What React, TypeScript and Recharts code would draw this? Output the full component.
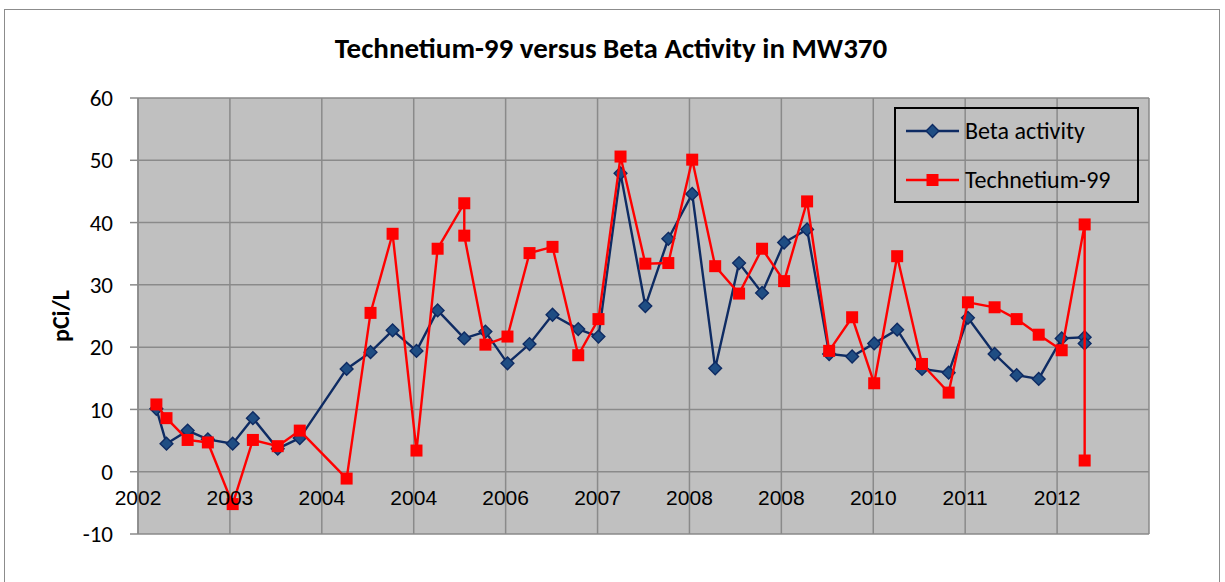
import { ScatterChart, Scatter, XAxis, YAxis, CartesianGrid, Legend } from 'recharts';

// x positions in axis units: gridline k sits at 2002 + k (labels below are what the axis prints)
const xTicks = [2002, 2003, 2004, 2005, 2006, 2007, 2008, 2009, 2010, 2011, 2012, 2013];
const xTickLabels = ['2002', '2003', '2004', '2004', '2006', '2007', '2008', '2008', '2010', '2011', '2012', ''];
const yTicks = [-10, 0, 10, 20, 30, 40, 50, 60];

const betaDates = [
    2002.2, 2002.31, 2002.54, 2002.76, 2003.03, 2003.25, 2003.52, 2003.76, 2004.27, 2004.53,
    2004.77, 2005.03, 2005.26, 2005.55, 2005.78, 2006.02, 2006.26, 2006.51, 2006.79, 2007.01,
    2007.25, 2007.52, 2007.77, 2008.03, 2008.28, 2008.54, 2008.79, 2009.03, 2009.28, 2009.52,
    2009.77, 2010.01, 2010.26, 2010.53, 2010.82, 2011.03, 2011.32, 2011.56, 2011.8, 2012.05,
    2012.3, 2012.3
];
const betaValues = [
    10.1, 4.5, 6.6, 5.2, 4.5, 8.6, 3.7, 5.4, 16.5, 19.2,
    22.7, 19.4, 25.9, 21.4, 22.5, 17.4, 20.5, 25.2, 22.9, 21.7,
    47.9, 26.6, 37.4, 44.6, 16.6, 33.5, 28.7, 36.8, 38.9, 18.9,
    18.5, 20.6, 22.8, 16.5, 15.9, 24.7, 18.9, 15.5, 14.9, 21.4,
    21.6, 20.6
];

const tcDates = [
    2002.2, 2002.31, 2002.54, 2002.76, 2003.03, 2003.25, 2003.52, 2003.76, 2004.27, 2004.53,
    2004.77, 2005.03, 2005.26, 2005.55, 2005.55, 2005.78, 2006.02, 2006.26, 2006.51, 2006.79,
    2007.01, 2007.25, 2007.52, 2007.77, 2008.03, 2008.28, 2008.54, 2008.79, 2009.03, 2009.28,
    2009.52, 2009.77, 2010.01, 2010.26, 2010.53, 2010.82, 2011.03, 2011.32, 2011.56, 2011.8,
    2012.05, 2012.3, 2012.3
];
const tcValues = [
    10.8, 8.6, 5.1, 4.7, -5.2, 5.1, 4.1, 6.6, -1.1, 25.5,
    38.2, 3.4, 35.8, 43.1, 37.9, 20.4, 21.7, 35.1, 36.1, 18.7,
    24.5, 50.6, 33.4, 33.5, 50.1, 33.0, 28.6, 35.8, 30.6, 43.4,
    19.4, 24.8, 14.2, 34.6, 17.3, 12.7, 27.2, 26.4, 24.5, 22.0,
    19.5, 39.7, 1.8
];

const betaData = betaDates.map((x, i) => ({ x, y: betaValues[i] }));
const tcData = tcDates.map((x, i) => ({ x, y: tcValues[i] }));

const BLUE_LINE = '#0e2b63';
const BLUE_FILL = '#1f4d83';
const RED = '#ff0000';
const GRID = '#8a8a8a';
const CALIBRI = 'Carlito, Calibri, Lato, sans-serif';

function Diamond({ cx, cy }: any) {
    const r = 6.4;
    return (
        <path
            d={`M${cx},${cy - r}L${cx + r},${cy}L${cx},${cy + r}L${cx - r},${cy}Z`}
            fill={BLUE_FILL}
            stroke={BLUE_LINE}
            strokeWidth={1.4}
        />
    );
}

function Square({ cx, cy }: any) {
    return <rect x={cx - 6} y={cy - 6} width={12} height={12} fill={RED} />;
}

function XTick({ x, payload }: any) {
    const label = xTickLabels[xTicks.indexOf(payload.value)];
    // Excel draws the labels against the zero line, not the bottom edge
    return (
        <text x={x} y={505} textAnchor="middle" fontFamily="'Liberation Sans', Arial, sans-serif" fontSize={21} fill="#000">
            {label}
        </text>
    );
}

function LegendBox() {
    return (
        <div style={{ width: 245, height: 96, border: '2px solid #000', boxSizing: 'border-box' }}>
            <svg width={241} height={92} style={{ display: 'block' }}>
                <line x1={10} x2={63} y1={22} y2={22} stroke={BLUE_LINE} strokeWidth={2.4} />
                <Diamond cx={36.5} cy={22} />
                <text x={69} y={30} fontFamily={CALIBRI} fontSize={24} fill="#000">Beta activity</text>
                <line x1={10} x2={63} y1={71} y2={71} stroke={RED} strokeWidth={2.4} />
                <Square cx={36.5} cy={71} />
                <text x={69} y={79} fontFamily={CALIBRI} fontSize={24} fill="#000">Technetium-99</text>
            </svg>
        </div>
    );
}

export default function App() {
    return (
        <div style={{ position: 'absolute', left: 0, top: 0, width: 1225, height: 582, background: '#fff', overflow: 'hidden' }}>
            <div style={{ position: 'absolute', left: 4, top: 9, width: 1216, height: 580, border: '1.5px solid #8c8c8c', boxSizing: 'border-box' }} />
            <div
                style={{
                    position: 'absolute', left: 0, top: 34, width: 1222, textAlign: 'center',
                    fontFamily: CALIBRI, fontWeight: 700, fontSize: 29, lineHeight: '29px', color: '#000'
                }}
            >
                Technetium-99 versus Beta Activity in MW370
            </div>
            <div style={{ position: 'absolute', left: 0, top: 0 }}>
                <ScatterChart width={1225} height={582} margin={{ top: 98, right: 76, bottom: 18, left: 78 }}>
                    <CartesianGrid stroke={GRID} strokeWidth={1.5} fill="#c0c0c0" fillOpacity={1} />
                    <XAxis
                        type="number"
                        dataKey="x"
                        domain={[2002, 2013]}
                        ticks={xTicks}
                        interval={0}
                        height={30}
                        axisLine={false}
                        tickLine={false}
                        tick={<XTick />}
                    />
                    <YAxis
                        type="number"
                        dataKey="y"
                        domain={[-10, 60]}
                        ticks={yTicks}
                        interval={0}
                        width={60}
                        stroke={GRID}
                        strokeWidth={1.5}
                        tickSize={8}
                        tickMargin={17}
                        tick={{ fill: '#000', fontSize: 23, fontFamily: CALIBRI }}
                        label={{
                            content: () => (
                                <text
                                    x={60}
                                    y={316}
                                    transform="rotate(-90, 60, 316)"
                                    textAnchor="middle"
                                    dominantBaseline="central"
                                    fontFamily={CALIBRI}
                                    fontWeight={700}
                                    fontSize={24}
                                    fill="#000"
                                >
                                    pCi/L
                                </text>
                            )
                        }}
                    />
                    <Legend
                        layout="vertical"
                        align="center"
                        verticalAlign="middle"
                        wrapperStyle={{ left: 894, top: 107, width: 245, height: 96 }}
                        content={() => <LegendBox />}
                    />
                    <Scatter
                        name="Beta activity"
                        data={betaData}
                        line={{ stroke: BLUE_LINE, strokeWidth: 2.4 }}
                        lineType="joint"
                        shape={(p: any) => <Diamond {...p} />}
                        isAnimationActive={false}
                    />
                    <Scatter
                        name="Technetium-99"
                        data={tcData}
                        line={{ stroke: RED, strokeWidth: 2.4 }}
                        lineType="joint"
                        shape={(p: any) => <Square {...p} />}
                        isAnimationActive={false}
                    />
                </ScatterChart>
            </div>
        </div>
    );
}
